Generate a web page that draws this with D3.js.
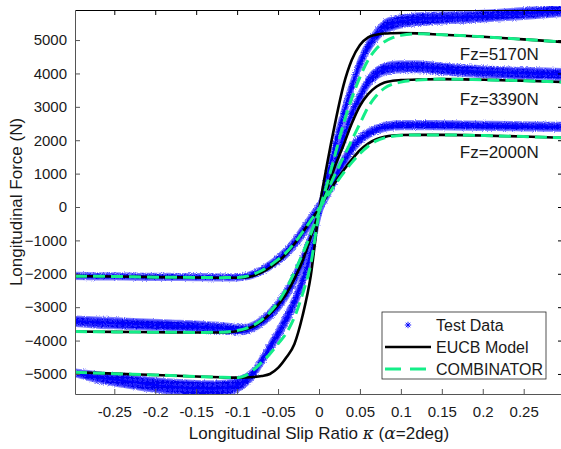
<!DOCTYPE html>
<html>
<head>
<meta charset="utf-8">
<script src="https://cdn.jsdelivr.net/npm/d3@7"></script>
<style>
  html, body { margin: 0; padding: 0; background: #fff; }
  svg { display: block; font-family: "Liberation Sans", Arial, Helvetica, sans-serif; }
</style>
</head>
<body>
<svg id="chart" width="561" height="449"></svg>
<script>
// ---- axis ticks ----
const kappaTicks = [-0.25, -0.2, -0.15, -0.1, -0.05, 0, 0.05, 0.1, 0.15, 0.2, 0.25];
const kappaTickLabels = ["-0.25", "-0.2", "-0.15", "-0.1", "-0.05", "0", "0.05", "0.1", "0.15", "0.2", "0.25"];
const forceTicks = [-5000, -4000, -3000, -2000, -1000, 0, 1000, 2000, 3000, 4000, 5000];

// ---- model curves (slip ratio grid shared by both models) ----
const modelKappa = [-0.298, -0.25, -0.2, -0.15, -0.12, -0.1, -0.09, -0.08, -0.07, -0.06, -0.05, -0.04, -0.03, -0.02, -0.01, 0,
                    0.01, 0.02, 0.03, 0.04, 0.05, 0.06, 0.07, 0.08, 0.09, 0.1, 0.12, 0.15, 0.2, 0.25, 0.298];

const eucb2000 = [-2070, -2080, -2100, -2110, -2120, -2120, -2110, -2060, -1960, -1820, -1630, -1400, -1100, -760, -400, -50,
                  350, 750, 1100, 1420, 1700, 1900, 2030, 2100, 2140, 2155, 2160, 2160, 2140, 2110, 2070];
const eucb3390 = [-3730, -3740, -3750, -3760, -3760, -3720, -3660, -3570, -3420, -3200, -2930, -2600, -2150, -1600, -900, -150,
                  550, 1250, 1860, 2500, 3030, 3380, 3600, 3730, 3780, 3800, 3820, 3830, 3810, 3780, 3740];
const eucb5170 = [-4950, -4990, -5030, -5075, -5100, -5110, -5105, -5090, -5060, -5000, -4820, -4510, -4100, -3250, -2050, -100,
                  1300, 2550, 3650, 4400, 4850, 5080, 5160, 5195, 5205, 5210, 5200, 5160, 5100, 5020, 4940];

const comb2000 = [-2070, -2080, -2100, -2110, -2115, -2110, -2080, -2010, -1900, -1750, -1570, -1360, -1080, -750, -400, -50,
                  320, 680, 1020, 1330, 1600, 1820, 1980, 2070, 2120, 2145, 2160, 2160, 2140, 2110, 2070];
const comb3390 = [-3730, -3740, -3750, -3755, -3750, -3700, -3640, -3540, -3380, -3150, -2850, -2450, -1950, -1400, -800, -150,
                  450, 1000, 1500, 2000, 2500, 2990, 3330, 3560, 3680, 3740, 3800, 3830, 3810, 3780, 3740];
const comb5170 = [-4950, -4990, -5030, -5075, -5100, -5110, -5050, -4880, -4650, -4400, -4100, -3780, -3300, -2600, -1700, -200,
                  700, 1600, 2500, 3250, 3890, 4400, 4740, 4950, 5070, 5140, 5190, 5160, 5100, 5020, 4940];

// ---- measured data: slip ratio, mean force and scatter half-width (N) ----
const testKappa = [-0.298, -0.27, -0.24, -0.21, -0.18, -0.15, -0.13, -0.11, -0.1, -0.09, -0.08, -0.07, -0.06, -0.05, -0.04, -0.03, -0.02, -0.01, 0,
                   0.01, 0.02, 0.03, 0.04, 0.05, 0.06, 0.07, 0.08, 0.09, 0.1, 0.12, 0.14, 0.16, 0.18, 0.21, 0.24, 0.27, 0.298];

const test2000 = [-2065, -2075, -2080, -2090, -2095, -2100, -2105, -2110, -2105, -2080, -2010, -1900, -1750, -1570, -1360, -1080, -750, -400, -30,
                  400, 880, 1350, 1750, 2020, 2200, 2320, 2400, 2435, 2450, 2455, 2450, 2445, 2440, 2430, 2420, 2410, 2400];
const spread2000 = [90, 90, 90, 90, 90, 90, 90, 90, 90, 90, 100, 110, 120, 140, 160, 180, 200, 200, 200,
                    200, 200, 200, 180, 150, 130, 120, 120, 120, 120, 120, 120, 120, 120, 120, 120, 120, 120];

const test3390 = [-3420, -3460, -3490, -3520, -3550, -3580, -3610, -3650, -3670, -3660, -3580, -3430, -3220, -2950, -2600, -2150, -1600, -950, -150,
                  600, 1400, 2100, 2800, 3300, 3750, 4000, 4130, 4180, 4200, 4200, 4160, 4120, 4080, 4040, 4010, 3990, 3970];
const spread3390 = [140, 150, 150, 150, 150, 150, 150, 150, 140, 130, 130, 140, 160, 180, 200, 220, 240, 240, 240,
                    240, 240, 240, 220, 200, 180, 170, 160, 160, 160, 160, 160, 160, 160, 160, 160, 160, 160];

const test5170 = [-4970, -5100, -5200, -5300, -5380, -5430, -5440, -5400, -5330, -5200, -4980, -4600, -4200, -3800, -3350, -2850, -2200, -1400, -200,
                  900, 1900, 2800, 3600, 4300, 4800, 5150, 5400, 5500, 5560, 5620, 5650, 5670, 5690, 5730, 5780, 5830, 5880];
const spread5170 = [100, 150, 180, 200, 210, 220, 220, 210, 200, 180, 160, 160, 180, 200, 220, 240, 260, 260, 260,
                    260, 260, 260, 240, 220, 200, 190, 190, 190, 180, 180, 170, 160, 160, 160, 160, 160, 160];

const fzLabels = [
  { text: "Fz=5170N", k: 0.172, f: 4390 },
  { text: "Fz=3390N", k: 0.172, f: 3060 },
  { text: "Fz=2000N", k: 0.172, f: 1460 }
];

// ---- layout ----
const svg = d3.select("#chart");
const plot = { left: 75, right: 563, top: 10, bottom: 394 };

const x = d3.scaleLinear().domain([-0.298, 0.298]).range([plot.left, plot.right]);
const y = d3.scaleLinear().domain([-5600, 5900]).range([plot.bottom, plot.top]);

const GREEN = "#14ee88";
const BLUE = "#0000ff";

const defs = svg.append("defs");
defs.append("clipPath").attr("id", "plotClip")
  .append("rect").attr("x", plot.left).attr("y", plot.top - 4)
  .attr("width", plot.right - plot.left).attr("height", plot.bottom - plot.top + 4);

// dense asterisk texture used inside the measured-data bands
const pat = defs.append("pattern").attr("id", "starFill").attr("patternUnits", "userSpaceOnUse")
  .attr("width", 5).attr("height", 5);
pat.append("rect").attr("width", 5).attr("height", 5).attr("fill", "#2a2aff");
pat.append("path").attr("d", "M0,2.5H5M2.5,0V5M0.7,0.7L4.3,4.3M0.7,4.3L4.3,0.7")
  .attr("stroke", "#0000f0").attr("stroke-width", 0.9);

// ragged edge, as left by overlapping markers
const rough = defs.append("filter").attr("id", "ragged")
  .attr("x", "-5%").attr("y", "-20%").attr("width", "110%").attr("height", "140%");
rough.append("feTurbulence").attr("type", "fractalNoise").attr("baseFrequency", 0.9)
  .attr("numOctaves", 1).attr("seed", 3).attr("result", "noise");
rough.append("feDisplacementMap").attr("in", "SourceGraphic").attr("in2", "noise")
  .attr("scale", 3.5).attr("xChannelSelector", "R").attr("yChannelSelector", "G");

const g = svg.append("g").attr("clip-path", "url(#plotClip)");

// ---- measured data band with asterisk markers ----
function asterisk(sel, cx, cy, r, w) {
  const d = r * 0.7071;
  sel.append("path")
    .attr("d", `M${cx - r},${cy}H${cx + r}M${cx},${cy - r}V${cy + r}M${cx - d},${cy - d}L${cx + d},${cy + d}M${cx - d},${cy + d}L${cx + d},${cy - d}`)
    .attr("stroke", BLUE).attr("stroke-width", w || 0.8).attr("fill", "none");
}

const tests = [
  { f: test2000, s: spread2000 },
  { f: test3390, s: spread3390 },
  { f: test5170, s: spread5170 }
];

tests.forEach(t => {
  const rows = testKappa.map((k, i) => ({ k, f: t.f[i], s: t.s[i] }));
  const area = d3.area()
    .x(d => x(d.k))
    .y0(d => y(d.f - d.s))
    .y1(d => y(d.f + d.s))
    .curve(d3.curveMonotoneX);
  const band = g.append("g").attr("filter", "url(#ragged)");
  band.append("path").datum(rows).attr("d", area)
    .attr("fill", "url(#starFill)").attr("stroke", "#5c5cff").attr("stroke-width", 2.2)
    .attr("stroke-opacity", 0.75);
  const line = d3.line().x(d => x(d.k)).y(d => y(d.f)).curve(d3.curveMonotoneX);
  band.append("path").datum(rows).attr("d", line)
    .attr("fill", "none").attr("stroke", BLUE).attr("stroke-width", 2);
  const mk = g.append("g");
  rows.forEach(d => {
    asterisk(mk, x(d.k), y(d.f), 3, 0.8);
  });
});

// ---- model curves ----
const modelLine = d3.line()
  .x(d => x(d.k)).y(d => y(d.f)).curve(d3.curveMonotoneX);

[eucb2000, eucb3390, eucb5170].forEach(arr => {
  g.append("path").datum(modelKappa.map((k, i) => ({ k, f: arr[i] })))
    .attr("d", modelLine).attr("fill", "none")
    .attr("stroke", "#000").attr("stroke-width", 2.6);
});
[comb2000, comb3390, comb5170].forEach(arr => {
  g.append("path").datum(modelKappa.map((k, i) => ({ k, f: arr[i] })))
    .attr("d", modelLine).attr("fill", "none")
    .attr("stroke", GREEN).attr("stroke-width", 3)
    .attr("stroke-dasharray", "12,6");
});

// ---- axes ----
const xAxisB = d3.axisBottom(x).tickValues(kappaTicks).tickSizeInner(-5).tickSizeOuter(0)
  .tickPadding(12).tickFormat((d, i) => kappaTickLabels[i]);
const xAxisT = d3.axisTop(x).tickValues(kappaTicks).tickSizeInner(-5).tickSizeOuter(0).tickFormat("");
const yAxisL = d3.axisLeft(y).tickValues(forceTicks).tickSizeInner(-5).tickSizeOuter(0)
  .tickPadding(8).tickFormat(d3.format("d"));
const yAxisR = d3.axisRight(y).tickValues(forceTicks).tickSizeInner(-5).tickSizeOuter(0).tickFormat("");

function styleAxis(sel, color) {
  sel.select(".domain").attr("stroke", color).attr("stroke-width", 1);
  sel.selectAll(".tick line").attr("stroke", color).attr("stroke-width", 1);
  sel.selectAll(".tick text").attr("fill", "#1a1a1a").attr("font-size", 15)
    .attr("font-family", "Liberation Sans, Arial, sans-serif");
}

styleAxis(svg.append("g").attr("transform", `translate(0,${plot.bottom})`).call(xAxisB), "#555");
styleAxis(svg.append("g").attr("transform", `translate(0,${plot.top})`).call(xAxisT), "#000");
styleAxis(svg.append("g").attr("transform", `translate(${plot.left},0)`).call(yAxisL), "#555");
styleAxis(svg.append("g").attr("transform", `translate(${plot.right},0)`).call(yAxisR), "#000");

// ---- axis titles ----
const xTitle = svg.append("text").attr("x", 319).attr("y", 439)
  .attr("text-anchor", "middle").attr("font-size", 17).attr("fill", "#1a1a1a");
xTitle.append("tspan").text("Longitudinal Slip Ratio ");
xTitle.append("tspan").attr("font-family", "DejaVu Serif, serif").attr("font-style", "italic").text("κ");
xTitle.append("tspan").text(" (");
xTitle.append("tspan").attr("font-family", "DejaVu Serif, serif").attr("font-style", "italic").text("α");
xTitle.append("tspan").text("=2deg)");

svg.append("text").attr("transform", "translate(22,202) rotate(-90)")
  .attr("text-anchor", "middle").attr("font-size", 17).attr("fill", "#1a1a1a")
  .text("Longitudinal Force (N)");

// ---- load labels ----
fzLabels.forEach(l => {
  svg.append("text").attr("x", x(l.k)).attr("y", y(l.f))
    .attr("font-size", 17).attr("fill", "#1a1a1a").text(l.text);
});

// ---- legend ----
const lg = svg.append("g");
lg.append("rect").attr("x", 382).attr("y", 312).attr("width", 164).attr("height", 67)
  .attr("fill", "#fff").attr("stroke", "#262626").attr("stroke-width", 0.8);
const legendItems = [
  { label: "Test Data", type: "marker" },
  { label: "EUCB Model", type: "solid" },
  { label: "COMBINATOR", type: "dash" }
];
legendItems.forEach((it, i) => {
  const ly = 325 + i * 22;
  if (it.type === "marker") asterisk(lg, 408, ly, 3.2, 0.9);
  if (it.type === "solid") lg.append("line").attr("x1", 385).attr("x2", 431).attr("y1", ly).attr("y2", ly)
    .attr("stroke", "#000").attr("stroke-width", 2.6);
  if (it.type === "dash") lg.append("line").attr("x1", 385).attr("x2", 431).attr("y1", ly).attr("y2", ly)
    .attr("stroke", GREEN).attr("stroke-width", 3).attr("stroke-dasharray", "16,9");
  lg.append("text").attr("x", 436).attr("y", ly + 5.5).attr("font-size", 16).attr("fill", "#1a1a1a").text(it.label);
});
</script>
</body>
</html>
